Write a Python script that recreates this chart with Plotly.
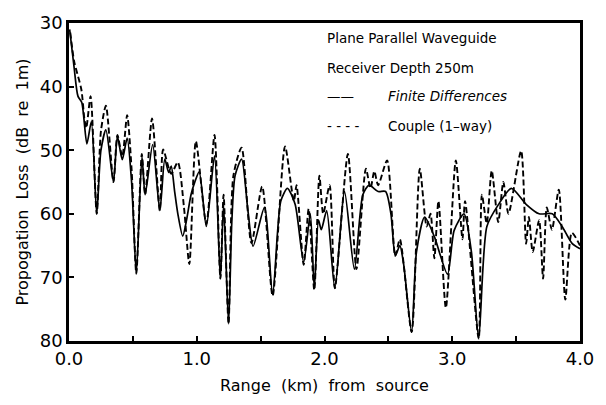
import plotly.graph_objects as go

# Finite Differences (solid)
FD_KM = [0.005, 0.04, 0.07, 0.10, 0.14, 0.175, 0.217, 0.25, 0.289, 0.348, 0.379, 0.417, 0.455, 0.49,
         0.527, 0.571, 0.596, 0.655, 0.711, 0.75, 0.78, 0.80, 0.827, 0.852, 0.89, 0.92, 0.955, 0.985,
         1.019, 1.075, 1.139, 1.185, 1.21, 1.249, 1.274, 1.30, 1.351, 1.40, 1.441, 1.53, 1.594, 1.658,
         1.71, 1.77, 1.837, 1.889, 1.92, 1.953, 1.975, 2.017, 2.081, 2.157, 2.234, 2.30, 2.349, 2.42,
         2.478, 2.52, 2.554, 2.59, 2.62, 2.682, 2.72, 2.784, 2.86, 2.963, 3.015, 3.092, 3.15, 3.207,
         3.271, 3.36, 3.463, 3.578, 3.68, 3.783, 3.86, 3.936, 4.0]
FD_DB = [31, 37, 41.5, 42.5, 49, 45.5, 60, 50, 46.8, 55, 47.8, 51.5, 48.1, 55,
         69.4, 51, 57, 49.1, 59.5, 51.4, 53.5, 52.5, 56.5, 60, 63.5, 61, 57, 55,
         53.4, 62, 50.9, 70.2, 58.6, 77.3, 61.5, 54, 51.4, 59.4, 65.1, 59, 72.7, 58,
         56, 58.5, 67.6, 60, 71.7, 61, 62.5, 59.5, 71.7, 56.5, 68.7, 57, 55.5, 56.5,
         56.5, 60, 66.6, 65, 68, 78.6, 66, 60.5, 63.6, 69.5, 62.6, 60, 66, 79.6,
         62, 58.6, 56, 58.5, 60, 60, 62, 64.6, 65.5]

# Couple (1-way) (dashed)
CP_KM = [0.01, 0.04, 0.097, 0.12, 0.135, 0.169, 0.217, 0.25, 0.289, 0.348, 0.379, 0.417, 0.455, 0.49,
         0.527, 0.57, 0.596, 0.65, 0.711, 0.737, 0.80, 0.852, 0.90, 0.942, 0.993, 1.075, 1.139, 1.185,
         1.21, 1.249, 1.287, 1.351, 1.428, 1.512, 1.594, 1.691, 1.76, 1.781, 1.837, 1.876, 1.92, 1.96,
         1.99, 2.04, 2.081, 2.183, 2.25, 2.324, 2.36, 2.39, 2.42, 2.49, 2.554, 2.59, 2.682, 2.746,
         2.80, 2.83, 2.86, 2.892, 2.95, 3.028, 3.08, 3.10, 3.207, 3.232, 3.27, 3.309, 3.36, 3.40,
         3.44, 3.539, 3.578, 3.60, 3.63, 3.68, 3.711, 3.74, 3.78, 3.834, 3.885, 3.936, 4.0]
CP_DB = [31.5, 36, 40.5, 45, 46.5, 41.5, 60, 47, 43, 55, 47.6, 51, 44.5, 53,
         69.4, 50.6, 57, 45, 59.5, 49.9, 53.7, 51.9, 59, 67.9, 48.6, 61.6, 47.6, 70.2,
         57, 77.3, 54, 49.6, 64.6, 55.7, 72.9, 49.4, 58, 55.5, 68, 59.2, 72, 54,
         60, 55.5, 71.7, 50.6, 68.7, 52.9, 56, 53.3, 55.5, 51.6, 66.6, 64, 78.6, 52.9,
         62, 60, 67, 58, 74.8, 51.6, 64, 58, 79.6, 57, 61.5, 53.2, 61.3, 55,
         60, 50.1, 64.7, 60.5, 66, 61, 70.2, 59, 62.5, 56.2, 73.5, 63, 65]

X_TICKS = [0, 1, 2, 3, 4]
X_TICK_LABELS = ["0.0", "1.0", "2.0", "3.0", "4.0"]
Y_TICKS = [30, 40, 50, 60, 70, 80]

FONT = "DejaVu Sans"

fig = go.Figure()
fig.add_trace(go.Scatter(x=CP_KM, y=CP_DB, mode="lines", name="Couple (1-way)",
                         line=dict(color="black", width=1.9, dash="6px,3px", shape="spline", smoothing=0.7)))
fig.add_trace(go.Scatter(x=FD_KM, y=FD_DB, mode="lines", name="Finite Differences",
                         line=dict(color="black", width=1.7, shape="spline", smoothing=0.7)))

nb = "\u00a0"
fig.update_layout(
    width=606, height=405,
    margin=dict(l=69, r=16, t=18, b=59),
    paper_bgcolor="white", plot_bgcolor="white",
    showlegend=False,
    font=dict(family=FONT, color="black"),
    xaxis=dict(range=[0, 4], tickvals=X_TICKS, ticktext=X_TICK_LABELS,
               ticks="inside", ticklen=5, tickwidth=1.5, tickcolor="black",
               minor=dict(dtick=0.5, ticks="inside", ticklen=5, tickwidth=1.5, tickcolor="black"),
               showline=True, linecolor="black", linewidth=2.5, mirror=True,
               showgrid=False, zeroline=False,
               tickfont=dict(size=18, family=FONT),
               title=dict(text=f"Range{nb}{nb}(km){nb}{nb}from{nb}{nb}source", font=dict(size=16, family=FONT), standoff=12)),
    yaxis=dict(range=[80, 30], tickvals=Y_TICKS,
               ticks="inside", ticklen=5, tickwidth=1.5, tickcolor="black",
               showline=True, linecolor="black", linewidth=2.5, mirror=True,
               showgrid=False, zeroline=False,
               tickfont=dict(size=18, family=FONT),
               title=dict(text=f"Propogation{nb}{nb}Loss{nb}{nb}(dB{nb}{nb}re{nb}{nb}1m)", font=dict(size=16, family=FONT), standoff=8)),
)

ann_font = dict(size=13.5, family=FONT, color="black")
texts = [
    (0.50, 0.954, "Plane Parallel Waveguide"),
    (0.50, 0.860, "Receiver Depth 250m"),
    (0.50, 0.771, "\u2014\u2014"),
    (0.62, 0.771, "<i>Finite Differences</i>"),
    (0.50, 0.677, "- - - -"),
    (0.62, 0.677, "Couple (1\u2013way)"),
]
for x, y, t in texts:
    fig.add_annotation(x=x, y=y, xref="paper", yref="paper", text=t, showarrow=False,
                       xanchor="left", yanchor="middle", font=ann_font)

fig.write_html("out.html")
